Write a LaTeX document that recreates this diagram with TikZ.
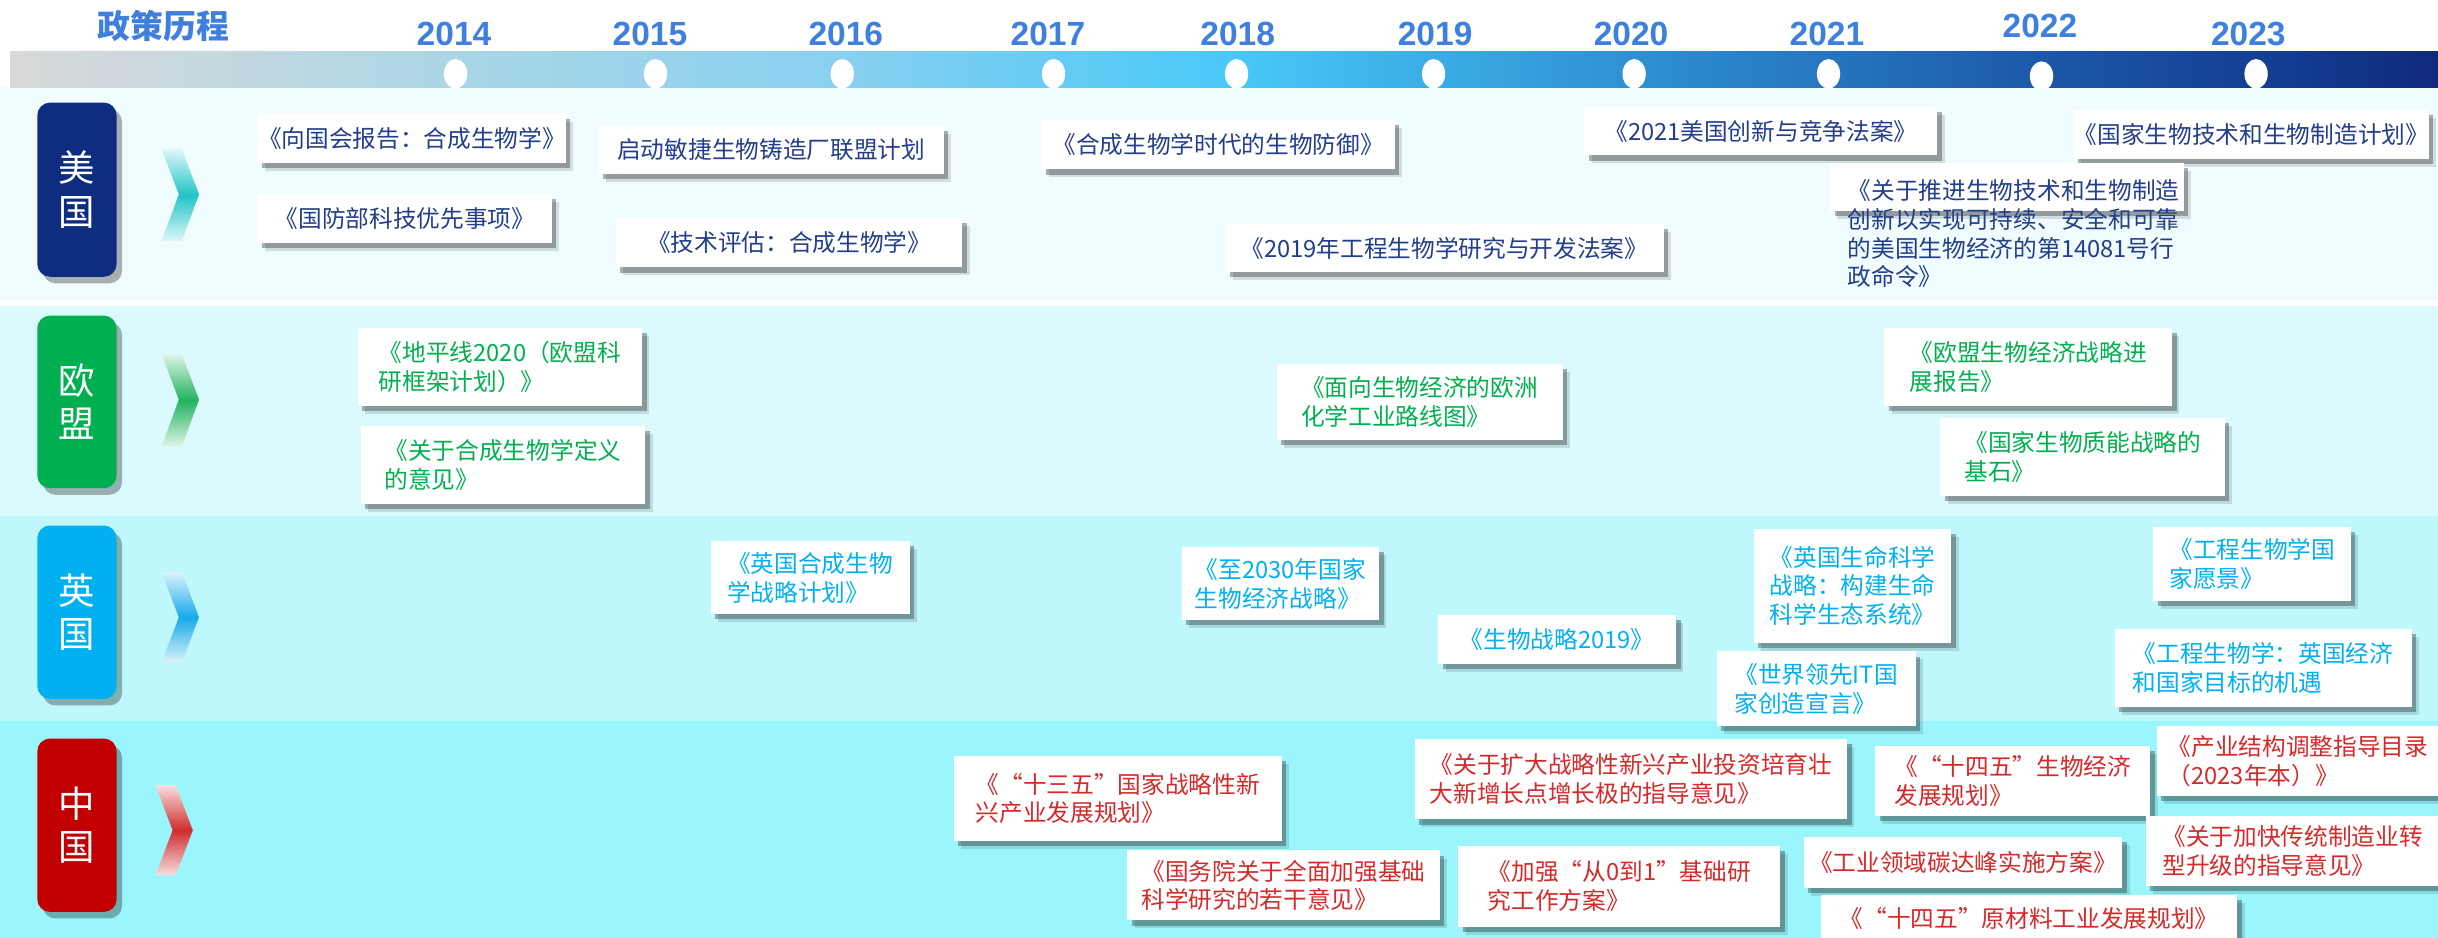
\documentclass[tikz,border=0pt]{standalone}
\usepackage{fontspec}
\setmainfont{Noto Sans CJK SC}
\newfontfamily\yearfont{Liberation Sans}
\usetikzlibrary{shadows}
\definecolor{titleblue}{HTML}{3F80DF}
\definecolor{usband}{HTML}{F0FCFE}
\definecolor{euband}{HTML}{DAFAFD}
\definecolor{ukband}{HTML}{BEF8FC}
\definecolor{cnband}{HTML}{9AF6FC}
\definecolor{usnavy}{HTML}{0E2C80}
\definecolor{eugreen}{HTML}{00B050}
\definecolor{ukblue}{HTML}{00B0F0}
\definecolor{cnred}{HTML}{C00000}
\definecolor{usink}{HTML}{233E8B}
\definecolor{cnink}{HTML}{D42A2A}
\definecolor{usarrow}{HTML}{21C4C8}
\definecolor{euarrow}{HTML}{21B35E}
\definecolor{ukarrow}{HTML}{16AAEA}
\definecolor{cnarrow}{HTML}{D02C2C}
\definecolor{tbA}{HTML}{D9D9D9}
\definecolor{tbB}{HTML}{AAD6E6}
\definecolor{tbC}{HTML}{88D0F0}
\definecolor{tbD}{HTML}{48C8F8}
\definecolor{tbE}{HTML}{2E90D2}
\definecolor{tbF}{HTML}{1C58A8}
\definecolor{tbG}{HTML}{0E2A80}
\pgfdeclarehorizontalshading{timebar}{100bp}{color(0bp)=(tbA); color(25bp)=(tbA); color(34.15bp)=(tbB); color(42.15bp)=(tbC); color(50.25bp)=(tbD); color(58.45bp)=(tbE); color(66.85bp)=(tbF); color(75bp)=(tbG); color(100bp)=(tbG)}

\begin{document}
\begin{tikzpicture}[line cap=round,line join=round,x=0.015cm,y=-0.015cm,
	doctext/.style={inner sep=0pt,align=left,font=\fontsize{6.5pt}{7.9pt}\selectfont},
	paper/.style={doctext,fill=white,
		drop shadow={shadow xshift=2pt,shadow yshift=-2.2pt,fill=black,opacity=0.12},
		drop shadow={shadow xshift=1.2pt,shadow yshift=-1.4pt,fill=black,opacity=0.3}},
	tag/.style={rounded corners=3.5pt,text=white,align=center,inner sep=0pt,minimum width=0.765cm,
		font=\fontsize{10pt}{11.9pt}\selectfont,
		drop shadow={shadow xshift=1.5pt,shadow yshift=-1.8pt,fill=black,opacity=0.3}},
	year/.style={text=titleblue,font=\yearfont\bfseries\fontsize{9.2pt}{10pt}\selectfont}]
	\useasboundingbox (0,0) rectangle (1568,603);
	\clip (0,0) rectangle (1568,603);
	% bands
	\fill[white] (0,0) rectangle (1568,603);
	\fill[usband] (0,56) rectangle (1568,193);
	\fill[euband] (0,197) rectangle (1568,332);
	\fill[ukband] (0,332) rectangle (1568,464);
	\fill[cnband] (0,464) rectangle (1568,603);
	% time line
	\shade[shading=timebar] (6.5,33.2) rectangle (1568,56.2);
	\begin{scope}
		\clip (6.5,33.2) rectangle (1568,56.2);
		\fill[white] (293,47.5) ellipse (7.5 and 9.5);
		\fill[white] (421.6,47.5) ellipse (7.5 and 9.5);
		\fill[white] (541.7,47.5) ellipse (7.5 and 9.5);
		\fill[white] (677.6,47.5) ellipse (7.5 and 9.5);
		\fill[white] (795.3,47.5) ellipse (7.5 and 9.5);
		\fill[white] (922,47.5) ellipse (7.5 and 9.5);
		\fill[white] (1051,47.5) ellipse (7.5 and 9.5);
		\fill[white] (1176,47.5) ellipse (7.5 and 9.5);
		\fill[white] (1313,49) ellipse (7.5 and 9.5);
		\fill[white] (1451,47.5) ellipse (7.5 and 9.5);
	\end{scope}
	\node[text=titleblue,font=\bfseries\fontsize{9pt}{10pt}\selectfont] (title) at (105,17) {政策历程};
	\node[year] (y2014) at (292,22) {2014};
	\node[year] (y2015) at (418,22) {2015};
	\node[year] (y2016) at (544,22) {2016};
	\node[year] (y2017) at (674,22) {2017};
	\node[year] (y2018) at (796,22) {2018};
	\node[year] (y2019) at (923,22) {2019};
	\node[year] (y2020) at (1049,22) {2020};
	\node[year] (y2021) at (1175,22) {2021};
	\node[year] (y2022) at (1312,17) {2022};
	\node[year] (y2023) at (1446,22) {2023};
	% region tags and chevrons
	\node[tag,fill=usnavy,minimum height=1.68cm] (us) at (49.5,122) {美\\国};
	\node[tag,fill=eugreen,minimum height=1.665cm] (eu) at (49.5,258.5) {欧\\盟};
	\node[tag,fill=ukblue,minimum height=1.6725cm] (uk) at (49.5,393.75) {英\\国};
	\node[tag,fill=cnred,minimum height=1.6725cm] (cn) at (49.5,530.75) {中\\国};
	\shade[top color=usarrow!15,bottom color=usarrow!15,middle color=usarrow] (104,96) -- (117,96) -- (128,125) -- (117,155) -- (104,155) -- (115,125) -- cycle;
	\shade[top color=euarrow!15,bottom color=euarrow!15,middle color=euarrow] (104,228) -- (117,228) -- (128,257) -- (117,287) -- (104,287) -- (115,257) -- cycle;
	\shade[top color=ukarrow!15,bottom color=ukarrow!15,middle color=ukarrow] (104,368) -- (117,368) -- (128,397) -- (117,426) -- (104,426) -- (115,397) -- cycle;
	\shade[top color=cnarrow!15,bottom color=cnarrow!15,middle color=cnarrow] (100,505) -- (113,505) -- (124,534) -- (113,563) -- (100,563) -- (111,534) -- cycle;
	% USA
	\node[paper,text=usink,minimum width=2.94cm,minimum height=0.48cm] (usA) at (265,89) {《向国会报告：合成生物学》};
	\node[paper,text=usink,minimum width=3.33cm,minimum height=0.465cm] (usB) at (496,96.5) {启动敏捷生物铸造厂联盟计划};
	\node[paper,text=usink,minimum width=2.835cm,minimum height=0.465cm] (usC) at (260.5,140.5) {《国防部科技优先事项》};
	\node[paper,text=usink,minimum width=3.345cm,minimum height=0.48cm] (usD) at (507.5,156) {《技术评估：合成生物学》};
	\node[paper,text=usink,minimum width=3.405cm,minimum height=0.48cm] (usE) at (783.5,93) {《合成生物学时代的生物防御》};
	\node[paper,text=usink,minimum width=4.23cm,minimum height=0.465cm] (usF) at (929,159.5) {《2019年工程生物学研究与开发法案》};
	\node[paper,text=usink,minimum width=3.405cm,minimum height=0.465cm] (usG) at (1132.5,84.5) {《2021美国创新与竞争法案》};
	\node[paper,text=usink,minimum width=3.42cm,minimum height=0.465cm] (usH) at (1448,86.5) {《国家生物技术和生物制造计划》};
	\node[paper,minimum width=3.41cm,minimum height=0.465cm] (usI) at (1290.75,120.15) {};
	\node[doctext,text=usink,anchor=north west] (usItext) at (1188,115) {《关于推进生物技术和生物制造\\创新以实现可持续、安全和可靠\\的美国生物经济的第14081号行\\政命令》};
	% EU
	\node[paper,text=eugreen,minimum width=2.745cm,minimum height=0.75cm] (euA) at (321.5,236) {《地平线2020（欧盟科\\研框架计划）》};
	\node[paper,text=eugreen,minimum width=2.745cm,minimum height=0.75cm] (euB) at (323.5,299) {《关于合成生物学定义\\的意见》};
	\node[paper,text=eugreen,minimum width=2.76cm,minimum height=0.735cm] (euC) at (913,258.5) {《面向生物经济的欧洲\\化学工业路线图》};
	\node[paper,text=eugreen,minimum width=2.775cm,minimum height=0.75cm] (euD) at (1304.5,236) {《欧盟生物经济战略进\\展报告》};
	\node[paper,text=eugreen,minimum width=2.745cm,minimum height=0.75cm] (euE) at (1339.5,294) {《国家生物质能战略的\\基石》};
	% UK
	\node[paper,text=ukblue,minimum width=1.92cm,minimum height=0.705cm] (ukA) at (521,371.5) {《英国合成生物\\学战略计划》};
	\node[paper,text=ukblue,minimum width=1.905cm,minimum height=0.705cm] (ukB) at (823.5,375.5) {《至2030年国家\\生物经济战略》};
	\node[paper,text=ukblue,minimum width=2.295cm,minimum height=0.4725cm] (ukC) at (1001.5,411.25) {《生物战略2019》};
	\node[paper,text=ukblue,minimum width=1.905cm,minimum height=1.1025cm] (ukD) at (1191.5,376.75) {《英国生命科学\\战略：构建生命\\科学生态系统》};
	\node[paper,text=ukblue,minimum width=1.905cm,minimum height=0.7125cm] (ukF) at (1448.5,362.75) {《工程生物学国\\家愿景》};
	\node[paper,text=ukblue,minimum width=2.865cm,minimum height=0.75cm] (ukG) at (1455.5,429.5) {《工程生物学：英国经济\\和国家目标的机遇};
	\node[paper,text=ukblue,minimum width=1.92cm,minimum height=0.72cm] (ukE) at (1168,443) {《世界领先IT国\\家创造宣言》};
	% China
	\node[paper,text=cnink,minimum width=3.165cm,minimum height=0.825cm] (cnA) at (719,513.5) {《“十三五”国家战略性新\\兴产业发展规划》};
	\node[paper,text=cnink,minimum width=3.015cm,minimum height=0.675cm] (cnB) at (825.5,569.5) {《国务院关于全面加强基础\\科学研究的若干意见》};
	\node[paper,text=cnink,minimum width=4.17cm,minimum height=0.78cm] (cnC) at (1049,501) {《关于扩大战略性新兴产业投资培育壮\\大新增长点增长极的指导意见》};
	\node[paper,text=cnink,minimum width=3.105cm,minimum height=0.78cm] (cnD) at (1041.5,570) {《加强“从0到1”基础研\\究工作方案》};
	\node[paper,text=cnink,minimum width=2.655cm,minimum height=0.675cm] (cnE) at (1294.5,502.5) {《“十四五”生物经济\\发展规划》};
	\node[paper,text=cnink,minimum width=3.075cm,minimum height=0.495cm] (cnF) at (1262.5,554.5) {《工业领域碳达峰实施方案》};
	\node[paper,text=cnink,minimum width=4.02cm,minimum height=0.4575cm] (cnG) at (1305,590.75) {《“十四五”原材料工业发展规划》};
	\node[paper,text=cnink,minimum width=2.73cm,minimum height=0.675cm] (cnH) at (1478,489.5) {《产业结构调整指导目录\\（2023年本）》};
	\node[paper,text=cnink,minimum width=2.835cm,minimum height=0.675cm] (cnI) at (1474.5,547.5) {《关于加快传统制造业转\\型升级的指导意见》};
\end{tikzpicture}
\end{document}
